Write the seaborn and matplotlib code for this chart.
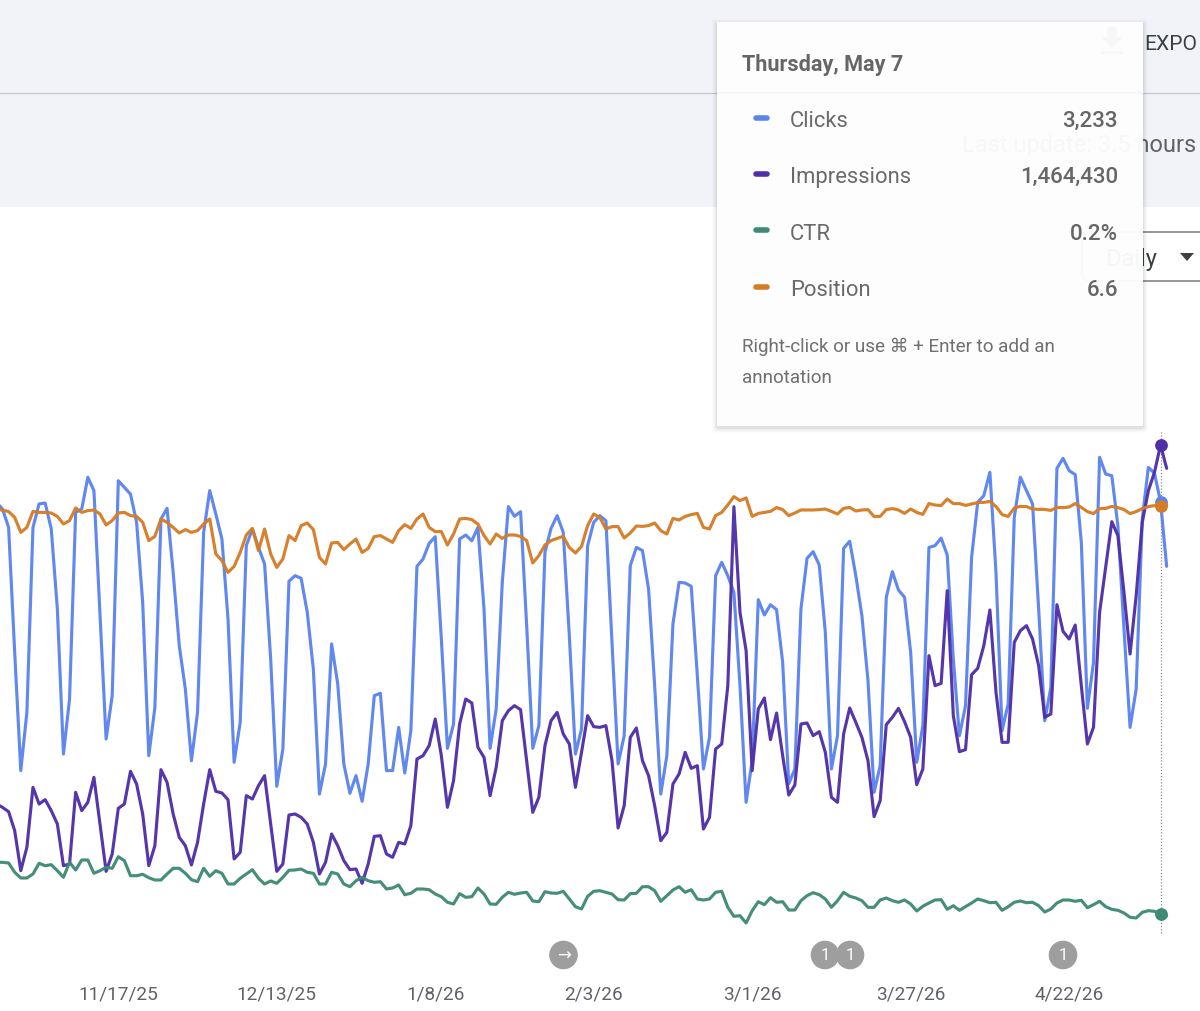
import matplotlib
matplotlib.use("Agg")
import matplotlib.pyplot as plt
import matplotlib.dates as mdates
from matplotlib.patches import Rectangle, Circle, FancyBboxPatch, Polygon
import numpy as np
import pandas as pd
import seaborn as sns

sns.set_theme(style="white")
plt.rcParams['font.family'] = ['Roboto', 'DejaVu Sans']

START_DATE = "2025-10-28"

clicks = [3230, 3180, 3042, 2105, 1218, 1655, 3042, 3218, 3225, 3030, 2430, 1342, 1755, 3155, 3180, 3418, 3318, 2380, 1455, 1780,
          3392, 3342, 3292, 3080, 2480, 1330, 1692, 3105, 3185, 2705, 2155, 1830, 1292, 1655, 3005, 3318, 3142, 2955, 2355, 1280,
          1580, 2905, 3030, 2892, 2768, 2055, 1100, 1380, 2638, 2680, 2660, 2405, 1980, 1042, 1268, 2168, 1868, 1268, 1048, 1180,
          988, 1268, 1780, 1798, 1218, 1218, 1542, 1200, 1518, 2750, 2805, 2922, 2972, 2205, 1385, 1568, 2955, 2985, 2942, 3042,
          2430, 1385, 1680, 2630, 3198, 3125, 3160, 2305, 1385, 1555, 2855, 3035, 3130, 3005, 2230, 1342, 1530, 2905, 3080, 3130,
          3092, 2180, 1268, 1480, 2755, 2892, 2868, 2580, 1855, 1042, 1330, 2318, 2630, 2625, 2600, 1930, 1230, 1468, 2680, 2780,
          2680, 2555, 1855, 980, 1292, 2500, 2385, 2462, 2425, 2030, 1118, 1230, 2430, 2810, 2860, 2760, 2255, 1230, 1480, 2885,
          2938, 2680, 2380, 1892, 1055, 1255, 2518, 2710, 2572, 2518, 2105, 1280, 1555, 2892, 2905, 2962, 2835, 2055, 1480, 1705,
          2818, 3230, 3280, 3455, 2705, 1518, 1718, 3118, 3418, 3318, 3218, 2430, 1592, 1842, 3485, 3560, 3468, 3438, 2930, 1685,
          2030, 3568, 3442, 3430, 3055, 2280, 1542, 1830, 3105, 3492, 3448, 3233, 2750]

impressions_k = [387, 377, 364, 307, 187, 257, 437, 387, 400, 367, 327, 202, 207, 422, 367, 392, 467, 327, 185, 237,
                 374, 387, 485, 447, 357, 202, 262, 490, 452, 357, 287, 262, 204, 272, 387, 490, 425, 420, 400, 222,
                 242, 412, 402, 442, 472, 327, 185, 207, 354, 357, 347, 327, 272, 177, 212, 297, 262, 217, 190, 192,
                 149, 207, 290, 292, 237, 227, 272, 267, 322, 522, 532, 562, 642, 532, 377, 457, 627, 702, 690, 557,
                 527, 412, 497, 637, 667, 682, 670, 517, 362, 407, 562, 637, 662, 597, 567, 437, 542, 652, 619, 617,
                 622, 517, 315, 382, 587, 615, 517, 472, 382, 277, 302, 447, 477, 542, 494, 502, 312, 347, 552, 567,
                 742, 1279, 962, 847, 487, 672, 705, 580, 660, 532, 414, 444, 627, 630, 592, 604, 542, 407, 392, 597,
                 675, 632, 587, 517, 349, 397, 625, 647, 674, 634, 587, 445, 492, 832, 742, 749, 1027, 652, 544, 550,
                 775, 794, 862, 969, 722, 572, 572, 872, 907, 922, 882, 802, 647, 657, 985, 905, 882, 924, 742, 567,
                 617, 962, 1097, 1234, 1192, 1022, 837, 1012, 1232, 1327, 1382, 1464, 1394]

ctr_pct = [.707, .707, .70, .607, .55, .55, .59, .697, .673, .683, .623, .557, .707, .63, .73, .73, .597, .623, .657, .647,
           .763, .723, .573, .573, .587, .553, .53, .53, .59, .647, .647, .597, .533, .513, .647, .567, .623, .597, .49, .49,
           .547, .59, .633, .547, .49, .52, .497, .557, .627, .63, .64, .607, .597, .49, .49, .607, .59, .49, .463, .523,
           .557, .523, .507, .513, .44, .45, .48, .383, .397, .44, .44, .433, .39, .363, .307, .29, .393, .357, .363, .45,
           .39, .29, .287, .357, .407, .387, .40, .407, .32, .313, .413, .40, .397, .417, .34, .263, .24, .367, .417, .423,
           .407, .39, .333, .33, .393, .397, .463, .463, .423, .317, .373, .43, .463, .407, .433, .34, .33, .34, .407, .417,
           .257, .167, .173, .10, .223, .313, .283, .353, .307, .313, .23, .23, .323, .373, .403, .383, .34, .257, .323, .407,
           .367, .35, .323, .257, .257, .33, .35, .323, .307, .33, .29, .22, .267, .30, .33, .333, .237, .273, .227, .263,
           .30, .34, .323, .303, .307, .227, .263, .307, .32, .303, .307, .273, .21, .24, .30, .33, .33, .317, .327, .253,
           .283, .317, .263, .237, .227, .20, .157, .15, .207, .223, .217, .19, .173]

position = [6.75, 6.80, 6.88, 7.17, 7.92, 7.67, 6.87, 6.92, 6.92, 6.95, 7.12, 7.50, 7.33, 6.70, 6.92, 6.83, 6.80, 7.00, 7.55, 7.33,
            6.95, 6.92, 7.08, 7.12, 7.42, 8.33, 8.12, 7.25, 7.42, 7.67, 7.95, 7.78, 7.92, 7.83, 7.50, 7.25, 9.00, 9.33, 9.92, 9.62,
            8.92, 8.05, 7.72, 8.83, 7.75, 9.00, 9.67, 9.25, 8.08, 8.33, 7.58, 7.45, 7.78, 9.17, 9.50, 8.45, 8.42, 8.78, 8.50, 8.25,
            8.92, 8.72, 8.13, 8.08, 8.25, 8.42, 7.83, 7.53, 7.72, 7.25, 7.00, 7.67, 7.88, 7.88, 8.55, 8.00, 7.25, 7.22, 7.28, 7.50,
            8.08, 8.50, 8.00, 8.22, 8.05, 8.05, 8.12, 8.33, 9.45, 9.08, 8.55, 8.33, 8.22, 8.12, 8.67, 8.95, 8.62, 7.58, 7.00, 7.17,
            7.75, 7.63, 7.63, 8.20, 7.95, 7.60, 7.62, 7.58, 7.45, 7.83, 8.00, 7.22, 7.30, 7.12, 7.03, 6.97, 7.67, 7.75, 7.08, 6.92,
            6.55, 6.13, 6.33, 6.20, 7.12, 6.97, 6.92, 6.87, 6.68, 6.78, 7.08, 6.95, 6.80, 6.80, 6.80, 6.78, 6.75, 6.87, 7.00, 6.72,
            6.67, 6.85, 6.80, 6.78, 7.13, 7.12, 6.78, 6.73, 6.80, 6.97, 6.75, 6.92, 7.02, 6.48, 6.55, 6.58, 6.25, 6.48, 6.48, 6.57,
            6.50, 6.43, 6.42, 6.37, 6.62, 7.03, 7.12, 6.70, 6.62, 6.63, 6.75, 6.77, 6.77, 6.82, 6.67, 6.68, 6.65, 6.48, 6.67, 6.88,
            6.98, 6.73, 6.72, 6.62, 6.68, 6.78, 6.98, 6.88, 6.73, 6.63, 6.58, 6.60, 6.58]

tick_dates = ["2025-11-17", "2025-12-13", "2026-01-08", "2026-02-03", "2026-03-01", "2026-03-27", "2026-04-22"]
tick_labels = ["11/17/25", "12/13/25", "1/8/26", "2/3/26", "3/1/26", "3/27/26", "4/22/26"]

series_names = ["Clicks", "Impressions", "CTR", "Position"]
series_values = [clicks, impressions_k, ctr_pct, position]
tooltip_values = ["3,233", "1,464,430", "0.2%", "6.6"]
series_colors = ["#5b84ef", "#5030a8", "#3f8a76", "#d67c26"]
y_limits = [(-585, 7005), (-234, 2802), (-0.78, 9.34), (31.85, -18.75)]

HOVER_DATE = pd.Timestamp("2026-05-07")
dates = pd.date_range(START_DATE, periods=len(clicks))

W, H = 1200, 1012
fig = plt.figure(figsize=(W / 100, H / 100), dpi=100)
x0 = mdates.date2num(pd.Timestamp("2025-10-29")) - 2.5 / 6.095
x1 = x0 + W / 6.095
TEXT = "#5f6368"

for k, (name, vals, col, lim) in enumerate(zip(series_names, series_values, series_colors, y_limits)):
    ax = fig.add_axes([0, 0, 1, 1], zorder=k + 1)
    ax.patch.set_visible(False)
    for s in ax.spines.values():
        s.set_visible(False)
    sns.lineplot(x=dates, y=vals, ax=ax, color=col, linewidth=2.25, errorbar=None, solid_joinstyle="round", alpha=0.97)
    hov = list(dates).index(HOVER_DATE)
    ax.plot([dates[hov]], [vals[hov]], "o", ms=9.2, color=col, mew=0, zorder=5)
    ax.set_xlim(x0, x1)
    ax.set_ylim(*lim)
    ax.set_ylabel("")
    ax.set_yticks([])
    if k == 0:
        ax.set_xticks([mdates.date2num(pd.Timestamp(d)) for d in tick_dates])
        ax.set_xticklabels(tick_labels, fontsize=13.7, color=TEXT)
        ax.tick_params(axis="x", length=0, pad=-19.3)
        ax.axvline(HOVER_DATE, ymin=(H - 934) / H, ymax=(H - 433) / H, color="#8a8a8a", lw=0.9, ls=(0, (1, 1.5)), zorder=0)
    else:
        ax.set_xticks([])
    ax.set_xlabel("")

# page chrome, tooltip and annotation markers in pixel space
ui = fig.add_axes([0, 0, 1, 1], zorder=10)
ui.set_xlim(0, W)
ui.set_ylim(H, 0)
ui.axis("off")
ui.patch.set_visible(False)

ui.add_patch(Rectangle((0, 0), W, 207.5, fc="#f1f3f8", ec="none", zorder=1))
ui.plot([0, W], [94, 94], color="#c4c6ca", lw=0.9, zorder=2)
ui.text(1144, 44, "EXPO", fontsize=15.2, color="#3c4043", va="center", ha="left", zorder=2)
ui.text(1196, 145, "Last update: 3.5 hours", fontsize=17, color="#5f6368", va="center", ha="right", zorder=2)
ui.add_patch(FancyBboxPatch((1082, 233), 140, 49, boxstyle="round,pad=0,rounding_size=8", fc="white", ec="#8d8f92", lw=1.3, zorder=2))
ui.text(1106, 259, "Daily", fontsize=17, color="#3c4043", va="center", ha="left", zorder=2)
ui.add_patch(Polygon([[1180, 254], [1194, 254], [1187, 262]], fc="#3c4043", ec="none", zorder=2))
ui.add_patch(Polygon([[1107, 28], [1117, 28], [1117, 38], [1123, 38], [1112, 49], [1101, 38], [1107, 38]], fc="#5f6368", ec="none", zorder=2))
ui.add_patch(Rectangle((1101, 52), 22, 2.5, fc="#5f6368", ec="none", zorder=2))

for off, al in [(5, .012), (4, .016), (3, .02), (2, .03), (1, .04)]:
    ui.add_patch(FancyBboxPatch((717 - off, 23 - off + 2), 426 + 2 * off, 404 + 2 * off, boxstyle="round,pad=0,rounding_size=3",
                                fc="black", ec="none", alpha=al, zorder=3))
ui.add_patch(Rectangle((717, 23), 426, 404, fc="white", ec="none", alpha=0.96, zorder=4))

ui.text(742, 64.5, "Thursday, May 7", fontsize=15.6, fontweight="bold", color="#666666", va="center", zorder=5)
ui.plot([717, 1143], [93, 93], color="#f5f5f5", lw=0.8, zorder=5)
for name, val, col, yy in zip(series_names, tooltip_values, series_colors, [119.5, 175.5, 232, 288.5]):
    ui.plot([756, 767], [yy - 1, yy - 1], color=col, lw=4, solid_capstyle="round", zorder=5)
    ui.text(790, yy + 2, name, fontsize=15.8, color="#6a6a6a", va="center", zorder=5)
    ui.text(1118, yy + 2, val, fontsize=16, fontweight="medium", color="#666666", va="center", ha="right", zorder=5)
ui.text(742, 346.5, "Right-click or use \u2318 + Enter to add an", fontsize=13.6, color="#707070", va="center", zorder=5)
ui.text(742, 377.5, "annotation", fontsize=13.6, color="#707070", va="center", zorder=5)

for cx, sym in [(563.5, "\u2192"), (825, "1"), (850, "1"), (1063, "1")]:
    ui.add_patch(Circle((cx, 956), 14.3, fc="#9e9e9e", ec="none", zorder=5))
    ui.text(cx, 956, sym, fontsize=12, color="white", ha="center", va="center", zorder=6)

fig.savefig("out.png", dpi=100, facecolor="white")
